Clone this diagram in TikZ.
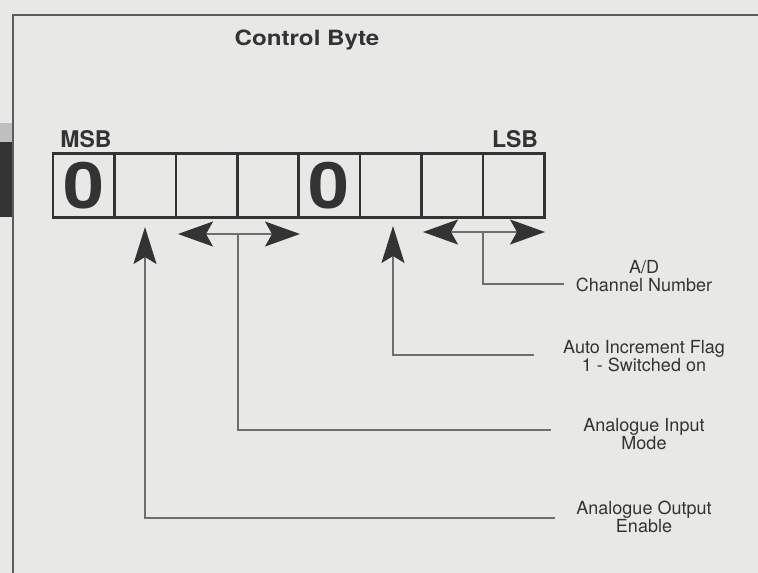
\documentclass[tikz,border=0pt]{standalone}
\usepackage{fontspec}
\setmainfont{TeX Gyre Heros}
\newfontfamily\widefont[FakeStretch=1.15]{TeX Gyre Heros}
\newfontfamily\zerofont[FakeStretch=1.15]{TeX Gyre Heros}
\usetikzlibrary{arrows.meta}
\definecolor{paper}{HTML}{E8E8E6}
\definecolor{ink}{HTML}{333333}
\definecolor{wire}{HTML}{6E6E6E}
\begin{document}
\begin{tikzpicture}[x=1pt,y=-1pt,
  cell/.style={draw=ink,line width=2.6pt,minimum width=61.4pt,minimum height=64pt,inner sep=0pt,
    font=\zerofont\bfseries\fontsize{64}{64}\selectfont,text=ink},
  lbl/.style={align=center,text=ink,font=\fontsize{18}{18}\selectfont,inner sep=0pt},
  wirestyle/.style={draw=wire,line width=1.6pt},
  headtip/.style={-{Stealth[length=37pt,width=23pt,inset=7pt,color=ink]}},
  dbltip/.style={{Stealth[length=35pt,width=25pt,inset=7pt,color=ink]}-{Stealth[length=35pt,width=25pt,inset=7pt,color=ink]}}
]
\useasboundingbox (0,0) rectangle (758,573);
\fill[paper] (0,0) rectangle (758,573);
% scan edge marks
\fill[black!80] (0,142) rectangle (12,217);
\fill[black!25] (0,123) rectangle (12,142);
\draw[ink!80,line width=1.6pt] (758,15) -- (13,15) -- (13,573);

\node[text=ink,font=\widefont\bfseries\fontsize{21}{21}\selectfont,inner sep=0pt] (title) at (307,40) {Control Byte};
\node[text=ink,font=\bfseries\fontsize{23}{23}\selectfont,inner sep=0pt] (msb) at (86,139) {MSB};
\node[text=ink,font=\bfseries\fontsize{23}{23}\selectfont,inner sep=0pt] (lsb) at (515,139) {LSB};

\foreach \i/\t in {0/0,1/,2/,3/,4/0,5/,6/,7/}{
  \node[cell] (c\i) at ({53+61.4*(\i+0.5)},185.5) {\t};
}

% labels
\node[lbl] (ad)  at (644,276) {A/D\\Channel Number};
\node[lbl] (aif) at (644,356) {Auto Increment Flag\\1 - Switched on};
\node[lbl] (aim) at (644,434) {Analogue Input\\Mode};
\node[lbl] (aoe) at (644,517) {Analogue Output\\Enable};

% connector points
\coordinate (tipA) at (145,227);
\coordinate (endA) at (555,518);
\coordinate (tipB) at (393,226);
\coordinate (endB) at (534,355);
\coordinate (dL1) at (178,234);
\coordinate (dR1) at (300,234);
\coordinate (stem1) at (238,234);
\coordinate (endC) at (551,430);
\coordinate (dL2) at (423,232);
\coordinate (dR2) at (545,232);
\coordinate (stem2) at (483,232);
\coordinate (endD) at (564,284);

% analogue output enable
\draw[wirestyle,headtip] (endA) -| (tipA);
% auto increment flag
\draw[wirestyle,headtip] (endB) -| (tipB);
% analogue input mode
\draw[wirestyle,dbltip] (dL1) -- (dR1);
\draw[wirestyle] (stem1) |- (endC);
% A/D channel number
\draw[wirestyle,dbltip] (dL2) -- (dR2);
\draw[wirestyle] (stem2) |- (endD);
\end{tikzpicture}
\end{document}
